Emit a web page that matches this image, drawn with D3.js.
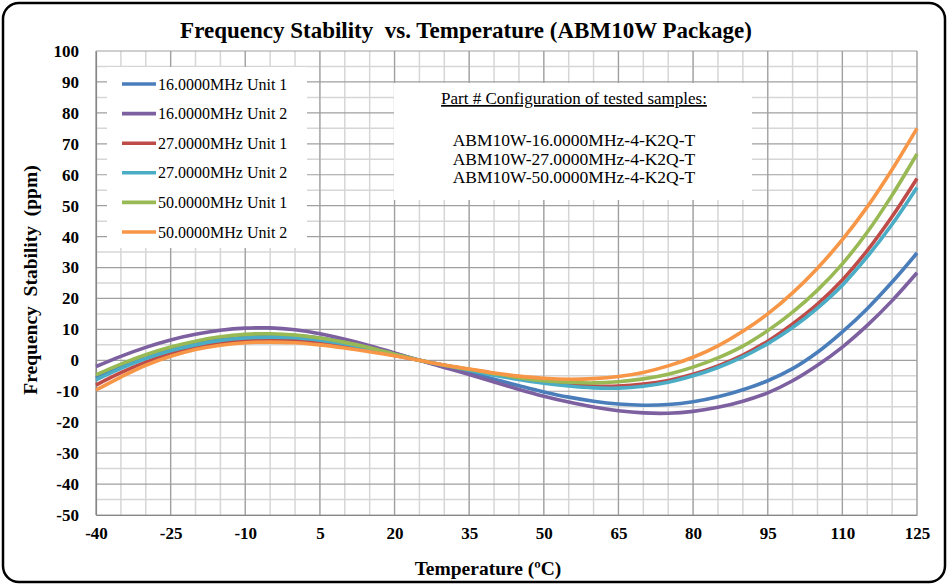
<!DOCTYPE html>
<html>
<head>
<meta charset="utf-8">
<script src="https://cdn.jsdelivr.net/npm/d3@7"></script>
<style>
  html, body { margin: 0; padding: 0; background: #fff; }
  svg { display: block; }
  text { white-space: pre; }
</style>
</head>
<body>
<svg id="chart" width="948" height="585"></svg>
<script>
// ---------------- DATA ----------------
const temperatures = [-40,-35,-30,-25,-20,-15,-10,-5,0,5,10,15,20,25,30,35,40,45,50,55,60,65,70,75,80,85,90,95,100,105,110,115,120,125];

const seriesNames = ["16.0000MHz Unit 1","16.0000MHz Unit 2","27.0000MHz Unit 1","27.0000MHz Unit 2","50.0000MHz Unit 1","50.0000MHz Unit 2"];
const seriesColors = ["#4a7ebb","#7d60a0","#be4b48","#4bacc6","#98b954","#f79646"];

const mhz16unit1 = [-5.6,-2.0,1.1,3.6,5.6,7.0,7.9,8.2,8.0,7.2,5.9,4.2,2.2,0,-2.0,-4.0,-6.1,-8.2,-10.2,-11.9,-13.2,-14.1,-14.5,-14.3,-13.4,-11.8,-9.5,-6.6,-2.7,2.6,9.2,16.7,25.3,34.7];
const mhz16unit2 = [-2.0,1.3,4.2,6.6,8.4,9.7,10.4,10.5,9.9,8.6,6.8,4.7,2.4,0,-2.3,-4.6,-7.0,-9.4,-11.6,-13.5,-15.1,-16.3,-17.0,-17.1,-16.5,-15.2,-13.2,-10.5,-6.6,-1.6,4.3,11.3,19.3,28.3];
const mhz27unit1 = [-8.0,-4.0,-0.6,2.1,4.1,5.5,6.3,6.6,6.4,5.7,4.6,3.2,1.6,0,-1.6,-3.1,-4.6,-5.9,-7.0,-7.8,-8.3,-8.3,-7.7,-6.5,-4.5,-1.8,1.7,6.2,11.8,18.2,26.0,35.5,46.5,58.8];
const mhz27unit2 = [-6.3,-2.6,0.6,3.1,5.0,6.4,7.2,7.5,7.3,6.5,5.3,3.7,1.9,0,-1.6,-3.2,-4.8,-6.2,-7.4,-8.3,-8.9,-9.0,-8.4,-7.1,-5.0,-2.3,1.1,5.4,10.6,16.9,24.3,33.5,44.0,55.9];
const mhz50unit1 = [-4.7,-1.2,1.8,4.3,6.2,7.6,8.4,8.6,8.2,7.2,5.8,4.1,2.0,0,-1.6,-2.9,-4.3,-5.6,-6.6,-7.1,-7.3,-6.9,-6.0,-4.5,-2.2,0.8,4.6,9.6,15.6,22.7,31.2,41.4,53.4,66.7];
const mhz50unit2 = [-9.6,-5.4,-1.6,1.3,3.5,4.9,5.7,5.9,5.7,5.0,4.0,2.8,1.5,0,-1.5,-2.8,-4.1,-5.1,-5.8,-6.1,-5.9,-5.2,-3.9,-1.8,1.0,4.7,9.4,15.0,21.8,29.8,39.0,49.6,61.7,75.0];

const xTickValues = [-40,-25,-10,5,20,35,50,65,80,95,110,125];
const yTickValues = [-50,-40,-30,-20,-10,0,10,20,30,40,50,60,70,80,90,100];
const xMinorValues = temperatures;
const yMinorValues = [-45,-35,-25,-15,-5,5,15,25,35,45,55,65,75,85,95];

const titleText = "Frequency Stability  vs. Temperature (ABM10W Package)";
const xTitle = "Temperature (ºC)";
const yTitle = "Frequency  Stability  (ppm)";
const noteTitle = "Part # Configuration of tested samples:";
const noteLines = ["ABM10W-16.0000MHz-4-K2Q-T","ABM10W-27.0000MHz-4-K2Q-T","ABM10W-50.0000MHz-4-K2Q-T"];

const allSeries = [mhz16unit1, mhz16unit2, mhz27unit1, mhz27unit2, mhz50unit1, mhz50unit2];

// ---------------- LAYOUT ----------------
const svg = d3.select("#chart");
const W = 948, H = 585;
const plot = {left: 96, right: 917, top: 51, bottom: 515};

const x = d3.scaleLinear().domain([-40,125]).range([plot.left, plot.right]);
const y = d3.scaleLinear().domain([-50,100]).range([plot.bottom, plot.top]);

const serif = "'Liberation Serif','Times New Roman',Times,serif";

// outer rounded border
svg.append("rect")
  .attr("x", 3).attr("y", 3).attr("width", W - 6).attr("height", H - 6)
  .attr("rx", 16).attr("ry", 16)
  .attr("fill", "#fff").attr("stroke", "#000").attr("stroke-width", 2.5);

// grid: minor
const grid = svg.append("g");
grid.selectAll("line.vminor").data(xMinorValues).join("line")
  .attr("x1", d => x(d)).attr("x2", d => x(d))
  .attr("y1", plot.top).attr("y2", plot.bottom)
  .attr("stroke", "#d6d6d6").attr("stroke-width", 1.5);
grid.selectAll("line.hminor").data(yMinorValues).join("line")
  .attr("x1", plot.left).attr("x2", plot.right)
  .attr("y1", d => y(d)).attr("y2", d => y(d))
  .attr("stroke", "#d6d6d6").attr("stroke-width", 1.5);
// grid: major
grid.selectAll("line.vmajor").data(xTickValues).join("line")
  .attr("x1", d => x(d)).attr("x2", d => x(d))
  .attr("y1", plot.top).attr("y2", plot.bottom)
  .attr("stroke", "#9f9f9f").attr("stroke-width", 1.2);
grid.selectAll("line.hmajor").data(yTickValues).join("line")
  .attr("x1", plot.left).attr("x2", plot.right)
  .attr("y1", d => y(d)).attr("y2", d => y(d))
  .attr("stroke", "#9f9f9f").attr("stroke-width", 1.2);

// axes
const fmt = d => String(d);
const xAxis = svg.append("g")
  .attr("transform", `translate(0,${plot.bottom})`)
  .call(d3.axisBottom(x).tickValues(xTickValues).tickSize(0).tickPadding(12).tickFormat(fmt));
const yAxis = svg.append("g")
  .attr("transform", `translate(${plot.left},0)`)
  .call(d3.axisLeft(y).tickValues(yTickValues).tickSize(0).tickPadding(17).tickFormat(fmt));
[xAxis, yAxis].forEach(a => {
  a.select(".domain").attr("stroke", "#868686").attr("stroke-width", 1.2);
  a.selectAll("text")
    .attr("fill", "#000")
    .style("font-family", serif)
    .style("font-weight", "bold")
    .style("font-size", "17px");
});

// legend box (white, no border)
const legendBox = {x: 107, y: 67, w: 200, h: 181};
svg.append("rect")
  .attr("x", legendBox.x).attr("y", legendBox.y)
  .attr("width", legendBox.w).attr("height", legendBox.h)
  .attr("fill", "#fff");

// note box
const noteBox = {x: 394, y: 83, w: 358, h: 117};
svg.append("rect")
  .attr("x", noteBox.x).attr("y", noteBox.y)
  .attr("width", noteBox.w).attr("height", noteBox.h)
  .attr("fill", "#fff");

// series lines
const line = d3.line()
  .x((d, i) => x(temperatures[i]))
  .y(d => y(d))
  .curve(d3.curveCatmullRom.alpha(0.5));

svg.append("g").selectAll("path").data(allSeries).join("path")
  .attr("d", d => line(d))
  .attr("fill", "none")
  .attr("stroke", (d, i) => seriesColors[i])
  .attr("stroke-width", 3.6)
  .attr("stroke-linejoin", "round");

// legend entries
const legend = svg.append("g");
seriesNames.forEach((name, i) => {
  const cy = 84 + i * 29.6;
  legend.append("line")
    .attr("x1", 122).attr("x2", 156).attr("y1", cy).attr("y2", cy)
    .attr("stroke", seriesColors[i]).attr("stroke-width", 3.6);
  legend.append("text")
    .attr("x", 158).attr("y", cy + 5.5)
    .style("font-family", serif).style("font-size", "16px")
    .attr("fill", "#000")
    .text(name);
});

// note text
const noteCx = noteBox.x + noteBox.w / 2 + 1;
svg.append("text")
  .attr("x", noteCx).attr("y", 104)
  .attr("text-anchor", "middle")
  .style("font-family", serif).style("font-size", "17px")
  .style("text-decoration", "underline")
  .attr("fill", "#000")
  .text(noteTitle);
noteLines.forEach((t, i) => {
  svg.append("text")
    .attr("x", noteCx).attr("y", 146 + i * 18.7)
    .attr("text-anchor", "middle")
    .style("font-family", serif).style("font-size", "17.5px")
    .attr("fill", "#000")
    .text(t);
});

// titles
svg.append("text")
  .attr("x", 466).attr("y", 38)
  .attr("text-anchor", "middle")
  .style("font-family", serif).style("font-weight", "bold").style("font-size", "23px")
  .attr("fill", "#000")
  .text(titleText);

svg.append("text")
  .attr("x", 488).attr("y", 575)
  .attr("text-anchor", "middle")
  .style("font-family", serif).style("font-weight", "bold").style("font-size", "19.5px")
  .attr("fill", "#000")
  .text(xTitle);

svg.append("text")
  .attr("transform", `translate(37,280) rotate(-90)`)
  .attr("text-anchor", "middle")
  .style("font-family", serif).style("font-weight", "bold").style("font-size", "19.5px")
  .attr("fill", "#000")
  .text(yTitle);
</script>
</body>
</html>
